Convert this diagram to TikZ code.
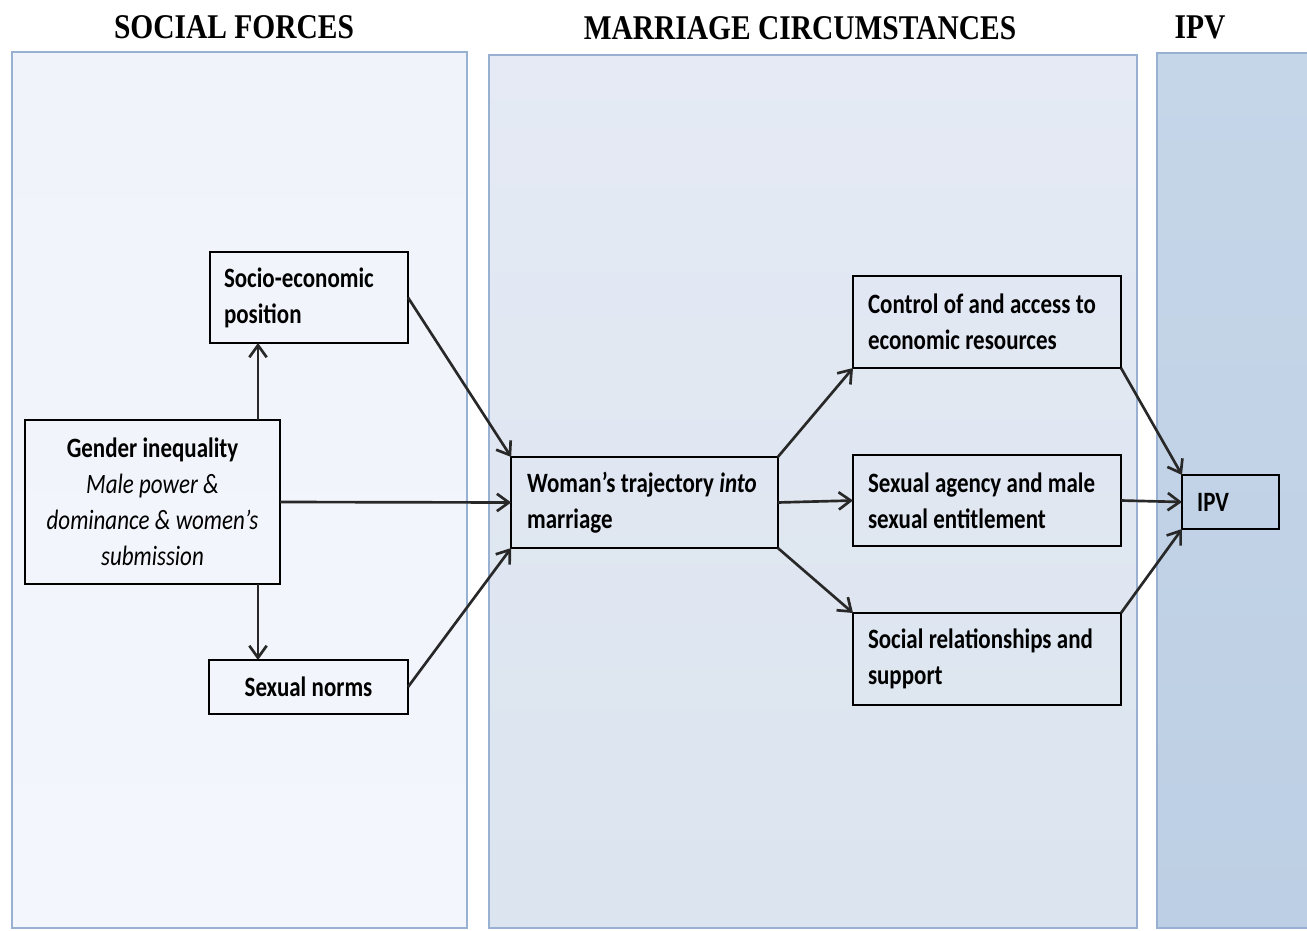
\documentclass[tikz,border=0pt]{standalone}
\usepackage{fontspec}
\setmainfont{Carlito}[FakeStretch=0.82]
\newfontfamily\hdrfont{Liberation Serif}[FakeStretch=0.85]
\usetikzlibrary{arrows.meta}
\definecolor{panelborder}{RGB}{152,176,210}
\definecolor{arrowgray}{RGB}{40,40,40}
\begin{document}
\begin{tikzpicture}[x=0.75pt,y=-0.75pt,
  panel/.style={draw=panelborder,line width=1.6pt},
  hdr/.style={font=\hdrfont\bfseries\fontsize{26}{30}\selectfont,inner sep=0pt},
  box/.style={draw=black,line width=1.4pt,fill=none,font=\bfseries\fontsize{21}{27}\selectfont,
    inner ysep=0pt,outer sep=0pt,align=left,
    execute at begin node={\spaceskip=0.19em\relax\xspaceskip=0.19em\relax}},
  conn/.style={draw=arrowgray,line width=2pt,-{Straight Barb[length=9pt,width=13pt,line width=2pt]}}]
\useasboundingbox (0,0) rectangle (1307,931);
\fill[white] (0,0) rectangle (1307,931);
% panels
\shade[top color={rgb,255:red,240;green,244;blue,250},bottom color={rgb,255:red,243;green,246;blue,252}] (12,52) rectangle (467,928);
\draw[panel] (12,52) rectangle (467,928);
\shade[top color={rgb,255:red,229;green,234;blue,244},bottom color={rgb,255:red,219;green,228;blue,239}] (489,55) rectangle (1137,928);
\draw[panel] (489,55) rectangle (1137,928);
\shade[top color={rgb,255:red,198;green,214;blue,233},bottom color={rgb,255:red,189;green,207;blue,228}] (1157,53) rectangle (1320,928);
\draw[panel] (1157,53) rectangle (1320,928);
% headers
\node[hdr] (h1) at (234,27) {SOCIAL FORCES};
\node[hdr] (h2) at (800,28) {MARRIAGE CIRCUMSTANCES};
\node[hdr] (h3) at (1200,27) {IPV};
% boxes
\node[box,text width=127.5pt,inner xsep=10.5pt,minimum height=68.25pt] (socio) at (309,297.5) {\mbox{Socio-economic}\\position};
\node[box,text width=180pt,inner xsep=5.6pt,minimum height=123pt,align=center] (gender) at (152.5,502) {Gender inequality\\\mdseries\itshape Male power \&\\\mdseries\itshape \mbox{dominance \& women’s}\\\mdseries\itshape submission};
\node[box,text width=130pt,inner xsep=9.6pt,minimum height=40.5pt,align=center] (norms) at (308.5,687) {Sexual norms};
\node[box,text width=176pt,inner xsep=12pt,minimum height=68.25pt] (woman) at (644.5,502.5) {\mbox{Woman’s trajectory \textit{into}}\\marriage};
\node[box,text width=178.5pt,inner xsep=11.25pt,minimum height=69pt] (control) at (987,322) {\mbox{Control of and access to}\\\mbox{economic resources}};
\node[box,text width=178.5pt,inner xsep=11.25pt,minimum height=68.25pt] (agency) at (987,500.5) {\mbox{Sexual agency and male}\\\mbox{sexual entitlement}};
\node[box,text width=178.5pt,inner xsep=11.25pt,minimum height=69pt] (social) at (987,659) {\mbox{Social relationships and}\\support};
\node[box,text width=50pt,inner xsep=11.4pt,minimum height=40.5pt] (ipv) at (1230.5,502) {IPV};
\coordinate (vx) at (258,0);
% connectors
\draw[conn] (gender.north -| vx) -- (socio.south -| vx);
\draw[conn] (gender.south -| vx) -- (norms.north -| vx);
\draw[conn] (gender.east) -- (woman.west);
\draw[conn] (socio.east) -- (woman.north west);
\draw[conn] (norms.east) -- (woman.south west);
\draw[conn] (woman.north east) -- (control.south west);
\draw[conn] (woman.east) -- (agency.west);
\draw[conn] (woman.south east) -- (social.north west);
\draw[conn] (control.south east) -- (ipv.north west);
\draw[conn] (agency.east) -- (ipv.west);
\draw[conn] (social.north east) -- (ipv.south west);
\end{tikzpicture}
\end{document}
